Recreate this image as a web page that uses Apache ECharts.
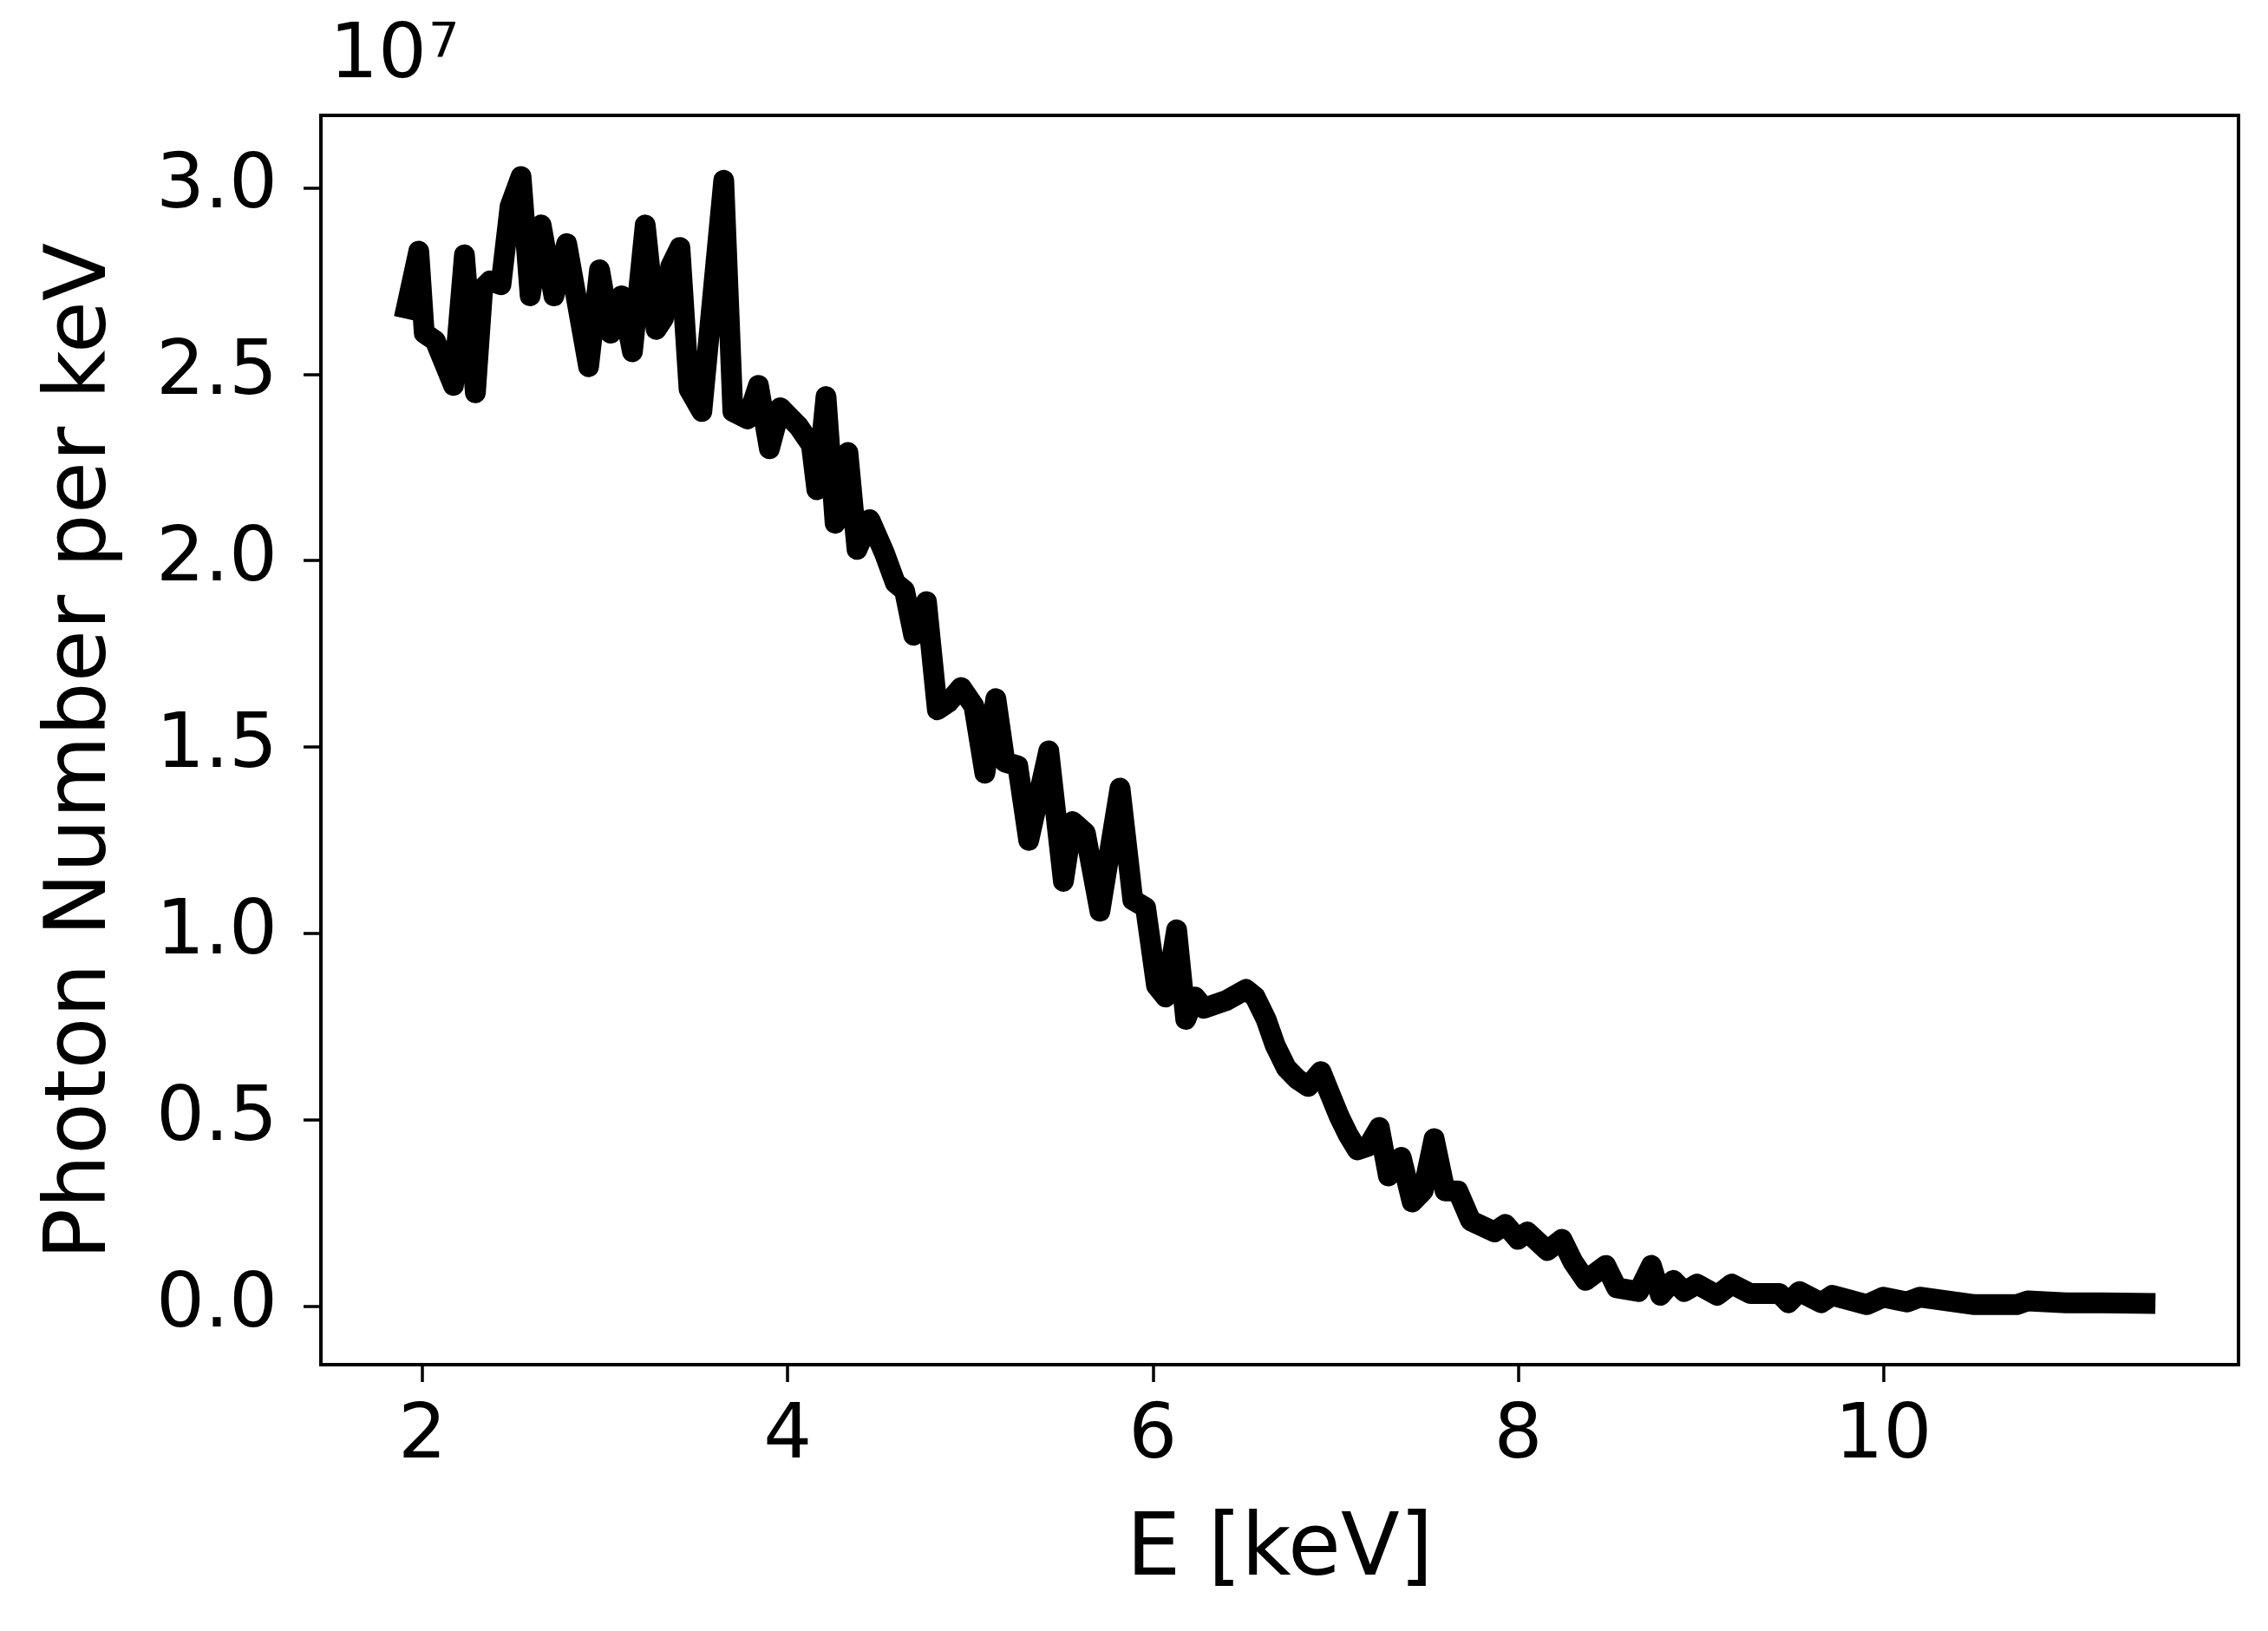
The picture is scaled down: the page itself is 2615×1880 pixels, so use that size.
<!DOCTYPE html>
<html>
<head>
<meta charset="utf-8">
<script src="https://cdn.jsdelivr.net/npm/echarts@6/dist/echarts.min.js"></script>
<style>
  html, body { margin: 0; padding: 0; background: #fff; }
  #main { width: 2615px; height: 1880px; }
</style>
</head>
<body>
<div id="main"></div>
<script>
// photon spectrum, values in units of 1e7 photons per keV
const energy = [
  1.90, 1.98, 2.01, 2.07, 2.17, 2.23, 2.29, 2.33, 2.37, 2.43, 2.48, 2.54, 2.59, 2.65, 2.72, 2.79,
  2.91, 2.97, 3.03, 3.09, 3.15, 3.22, 3.28, 3.32, 3.36, 3.41, 3.46, 3.53, 3.65, 3.70, 3.78, 3.84,
  3.90, 3.96, 4.06, 4.13, 4.16, 4.21, 4.26, 4.33, 4.38, 4.45, 4.53, 4.59, 4.64, 4.69, 4.76, 4.82,
  4.88, 4.95, 5.02, 5.08, 5.14, 5.19, 5.26, 5.32, 5.43, 5.51, 5.56, 5.63, 5.71, 5.82, 5.89, 5.96,
  6.02, 6.07, 6.13, 6.18, 6.23, 6.28, 6.40, 6.51, 6.56, 6.62, 6.67, 6.73, 6.79, 6.85, 6.92, 6.97,
  7.02, 7.07, 7.12, 7.18, 7.24, 7.29, 7.36, 7.42, 7.48, 7.54, 7.60, 7.67, 7.74, 7.87, 7.93, 8.00,
  8.05, 8.16, 8.24, 8.30, 8.37, 8.48, 8.54, 8.66, 8.73, 8.78, 8.85, 8.91, 8.98, 9.09, 9.17, 9.27,
  9.43, 9.48, 9.54, 9.66, 9.72, 9.91, 10.00, 10.13, 10.20, 10.50, 10.73, 10.79, 11.00, 11.20, 11.49
];
const photons = [
  2.65, 2.83, 2.61, 2.59, 2.47, 2.82, 2.45, 2.73, 2.75, 2.74, 2.95, 3.03, 2.71, 2.90, 2.71, 2.85,
  2.52, 2.78, 2.61, 2.71, 2.56, 2.90, 2.62, 2.65, 2.79, 2.84, 2.46, 2.40, 3.02, 2.40, 2.38, 2.47,
  2.30, 2.41, 2.36, 2.31, 2.19, 2.44, 2.10, 2.29, 2.03, 2.11, 2.02, 1.94, 1.92, 1.80, 1.89, 1.60,
  1.62, 1.66, 1.61, 1.43, 1.63, 1.46, 1.45, 1.25, 1.49, 1.14, 1.30, 1.27, 1.06, 1.39, 1.09, 1.07,
  0.86, 0.83, 1.01, 0.77, 0.83, 0.80, 0.82, 0.85, 0.83, 0.77, 0.70, 0.64, 0.61, 0.59, 0.63, 0.57,
  0.51, 0.46, 0.42, 0.43, 0.48, 0.35, 0.40, 0.28, 0.31, 0.45, 0.31, 0.31, 0.23, 0.20, 0.22, 0.18,
  0.20, 0.15, 0.18, 0.12, 0.07, 0.11, 0.05, 0.04, 0.11, 0.03, 0.07, 0.04, 0.06, 0.03, 0.06, 0.035,
  0.035, 0.01, 0.04, 0.01, 0.03, 0.005, 0.025, 0.012, 0.025, 0.005, 0.005, 0.015, 0.01, 0.01, 0.008
];
const xTicks = [2, 4, 6, 8, 10];
const yTicks = [0, 0.5, 1.0, 1.5, 2.0, 2.5, 3.0];

const font = 'DejaVu Sans';
const points = energy.map((e, i) => [e, photons[i]]);

const chart = echarts.init(document.getElementById('main'));
chart.setOption({
  animation: false,
  backgroundColor: '#fff',
  title: {
    text: '10{s|7}',
    left: 380,
    top: 22,
    padding: 0,
    textStyle: {
      fontFamily: font, fontSize: 88, fontWeight: 'normal', color: '#000',
      rich: { s: { fontFamily: font, fontSize: 56, color: '#000', verticalAlign: 'top', padding: [0, 0, 28, 2] } }
    }
  },
  grid: {
    left: 370, right: 34, top: 133, bottom: 307,
    show: true, borderColor: '#000', borderWidth: 4, backgroundColor: 'transparent'
  },
  xAxis: {
    type: 'value',
    min: 1.444, max: 11.945,
    name: 'E [keV]',
    nameLocation: 'middle',
    nameGap: 216,
    nameTextStyle: { fontFamily: font, fontSize: 99, color: '#000', verticalAlign: 'middle' },
    axisLine: { show: true, onZero: false, lineStyle: { color: '#000', width: 4 } },
    axisTick: { show: true, customValues: xTicks, length: 20, lineStyle: { color: '#000', width: 3.5 } },
    axisLabel: { customValues: xTicks, margin: 40, fontFamily: font, fontSize: 88, color: '#000' },
    splitLine: { show: false }
  },
  yAxis: {
    type: 'value',
    min: -0.156, max: 3.194,
    name: 'Photon Number per keV',
    nameLocation: 'middle',
    nameGap: 274,
    nameTextStyle: {
      fontFamily: font, fontSize: 98, color: '#000', verticalAlign: 'middle',
      padding: [0, 26, 0, 0]
    },
    axisLine: { show: true, onZero: false, lineStyle: { color: '#000', width: 4 } },
    axisTick: { show: true, customValues: yTicks, length: 20, lineStyle: { color: '#000', width: 3.5 } },
    axisLabel: {
      customValues: yTicks, margin: 50, fontFamily: font, fontSize: 88, color: '#000',
      formatter: v => v.toFixed(1)
    },
    splitLine: { show: false }
  },
  series: [{
    type: 'line',
    data: points,
    symbol: 'none',
    lineStyle: { color: '#000', width: 24, join: 'round', cap: 'butt' }
  }]
});
</script>
</body>
</html>
